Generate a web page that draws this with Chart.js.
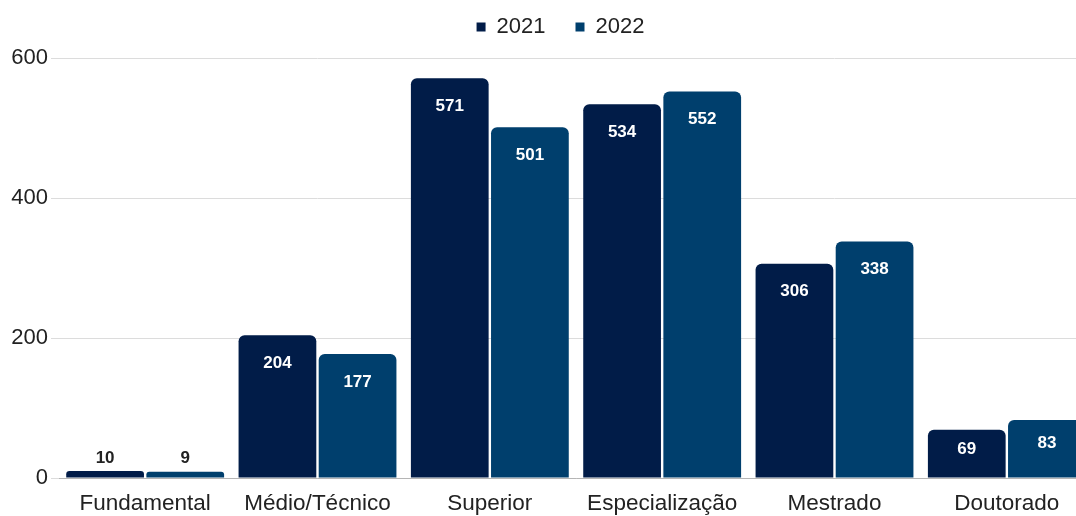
<!DOCTYPE html>
<html>
<head>
<meta charset="utf-8">
<script src="https://cdn.jsdelivr.net/npm/chart.js@4/dist/chart.umd.min.js"></script>
<style>
  html, body { margin: 0; padding: 0; background: #fff; overflow: hidden; }
  #grafico { display: block; }
</style>
</head>
<body>
<canvas id="grafico" width="1095" height="516"></canvas>
<script>
const categorias = ['Fundamental', 'Médio/Técnico', 'Superior', 'Especialização', 'Mestrado', 'Doutorado'];
const anos = ['2021', '2022'];
const valores2021 = [10, 204, 571, 534, 306, 69];
const valores2022 = [9, 177, 501, 552, 338, 83];
const ticksY = [0, 200, 400, 600];
const cores = ['#011c48', '#003f6d'];

const fonte = "'Liberation Sans', Arial, sans-serif";

// espaco extra abaixo da legenda e deslocamento para a direita
const ajusteLegenda = {
	id: 'ajusteLegenda',
	afterInit(chart) {
		const legenda = chart.legend;
		const fitOrig = legenda.fit;
		legenda.fit = function() {
			fitOrig.call(this);
			this.height += 10;
		};
		const drawOrig = legenda.draw;
		legenda.draw = function() {
			this.ctx.save();
			this.ctx.translate(14, 0);
			drawOrig.call(this);
			this.ctx.restore();
		};
	}
};

// rotulos dos valores dentro/acima das barras
const rotulosBarras = {
	id: 'rotulosBarras',
	afterDatasetsDraw(chart) {
		const ctx = chart.ctx;
		ctx.save();
		ctx.font = 'bold 17px ' + fonte;
		ctx.textAlign = 'center';
		ctx.textBaseline = 'middle';
		chart.data.datasets.forEach((ds, i) => {
			const meta = chart.getDatasetMeta(i);
			meta.data.forEach((bar, j) => {
				const h = bar.base - bar.y;
				let y;
				if (h < 30) {
					ctx.fillStyle = '#222';
					y = bar.y - 13;
				} else {
					ctx.fillStyle = '#ffffff';
					y = bar.y + Math.min(28, h * 0.4);
				}
				ctx.fillText(ds.data[j], bar.x, y);
			});
		});
		ctx.restore();
	}
};

const dados = {
	labels: categorias,
	datasets: [
		{ label: anos[0], data: valores2021, backgroundColor: cores[0] },
		{ label: anos[1], data: valores2022, backgroundColor: cores[1] }
	].map(d => Object.assign(d, {
		categoryPercentage: 0.93,
		barPercentage: 0.97,
		borderRadius: { topLeft: 6, topRight: 6, bottomLeft: 0, bottomRight: 0 },
		borderSkipped: 'bottom'
	}))
};

const config = {
	type: 'bar',
	data: dados,
	options: {
		responsive: false,
		animation: false,
		layout: { padding: { top: -14, right: 2, bottom: -5, left: 0 } },
		plugins: {
			legend: {
				display: true,
				position: 'top',
				labels: {
					boxWidth: 9,
					boxHeight: 9,
					padding: 30,
					color: '#222',
					font: { family: fonte, size: 22 }
				}
			},
			tooltip: { enabled: false }
		},
		scales: {
			x: {
				grid: { display: false },
				border: { display: true, color: '#b5b5b5', width: 1 },
				ticks: {
					color: '#222',
					padding: 4,
					maxRotation: 0,
					autoSkip: false,
					font: { family: fonte, size: 22.5 }
				}
			},
			y: {
				min: 0,
				max: 600,
				afterFit(scale) { scale.width = 59; },
				afterBuildTicks(scale) { scale.ticks = ticksY.map(v => ({ value: v })); },
				grid: { color: '#dcdcdc', drawTicks: true, tickLength: 8 },
				border: { display: false },
				ticks: {
					color: '#222',
					padding: 3,
					font: { family: fonte, size: 22 }
				}
			}
		}
	},
	plugins: [ajusteLegenda, rotulosBarras]
};

const ctx = document.getElementById('grafico').getContext('2d');
window.graficoEscolaridade = new Chart(ctx, config);
</script>
</body>
</html>
